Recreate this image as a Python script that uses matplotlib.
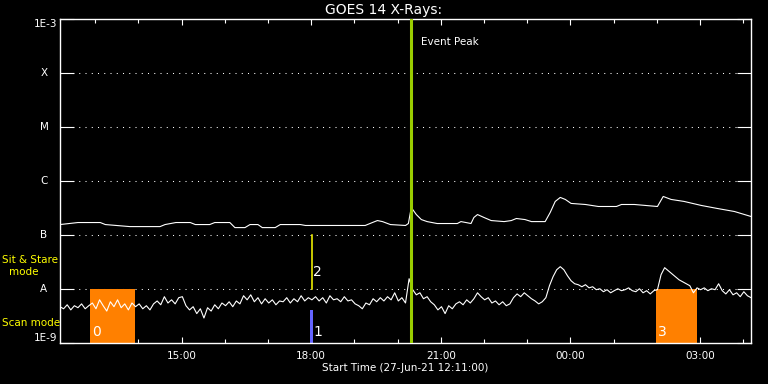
"""GOES 14 X-ray flux plot with observing-mode overlays, 27-Jun-21."""

import matplotlib

matplotlib.use("Agg")
import matplotlib.pyplot as plt
import numpy as np
from matplotlib.patches import Rectangle

# time axis: minutes after start (27-Jun-21 12:11:00)
t_end = 960
hour_ticks = [49 + 60 * k for k in range(16)]
major_ticks = [169, 349, 529, 709, 889]
major_labels = ["15:00", "18:00", "21:00", "00:00", "03:00"]

# GOES classes
class_levels = [1e-8, 1e-7, 1e-6, 1e-5, 1e-4]
class_names = ["A", "B", "C", "M", "X"]

# long channel (1-8 A), W/m^2 in units of 1e-9
long_t = [0, 25, 56, 63, 97, 139, 146, 161, 181, 188, 208, 215, 236, 243, 257,
          264, 275, 281, 299, 306, 334, 341, 424, 434, 441, 448, 459, 480, 484,
          488, 495, 502, 510, 524, 552, 557, 564, 571, 575, 580, 589, 599, 617,
          627, 634, 646, 655, 674, 681, 688, 695, 702, 710, 730, 748, 773, 780,
          798, 830, 838, 849, 867, 891, 913, 937, 960]
long_nw = [156, 170, 170, 156, 143, 143, 156, 170, 170, 156, 156, 170, 170, 137,
           137, 156, 156, 137, 137, 156, 156, 150, 150, 170, 185, 177, 156, 150,
           163, 323, 239, 193, 177, 163, 163, 177, 170, 163, 211, 239, 211, 185,
           177, 185, 202, 193, 177, 177, 261, 418, 496, 455, 384, 367, 337, 337,
           367, 367, 337, 517, 455, 418, 352, 310, 272, 220]

# short channel (0.5-4 A), 5-minute samples, in units of 1e-9 W/m^2
short_t = np.arange(0, t_end + 1, 5)
short_nw = [4.7, 4.3, 5.1, 4.1, 4.9, 4.5, 5.3, 4.3, 4.9,
            5.5, 4.3, 6.3, 4.9, 3.9, 5.8, 4.7, 6.3, 4.5, 5.3, 4.1, 5.5, 4.7,
            5.3, 4.3, 4.9, 4.1, 5.3,
            6.0, 5.1, 7.2, 5.5, 6.3, 5.3, 6.9, 7.2,
            4.9, 4.1, 4.7, 3.5, 4.3, 2.9,
            4.5, 3.9, 5.1, 4.3, 5.5, 4.9, 5.8, 4.7, 6.0, 5.3,
            7.5, 6.3, 7.8, 5.8, 6.9, 5.3, 6.6, 5.5, 6.3, 5.1, 6.0, 5.8, 6.9, 5.5,
            6.6, 5.8, 7.5, 6.0, 6.9, 6.3,
            7.2, 6.0, 6.9, 5.5, 7.5, 6.3, 6.6, 5.8, 7.2, 6.0,
            6.3, 5.3, 4.9, 4.3, 5.5, 5.1,
            6.6, 5.8, 6.9, 6.0, 7.2, 6.3, 8.5,
            6.0, 6.9, 5.5,
            15.5,
            9.7, 7.8, 8.5, 6.6, 7.2, 5.8, 5.1,
            4.1, 4.7, 3.5, 4.9, 4.3, 5.3,
            5.8, 5.1, 6.3, 5.5, 6.6, 8.5,
            7.2, 6.3, 6.9, 5.5, 6.0, 5.1, 5.8, 4.9,
            5.3, 6.9, 8.1, 7.2, 8.5, 7.5, 6.6,
            6.0, 5.3, 5.8,
            6.9,
            11.5, 16.9, 22.7, 25.9, 22.7, 17.6, 14.2, 12.5, 12.0,
            11.0, 12.0, 10.5, 11.0, 9.7, 10.1,
            8.9, 9.7, 8.5, 9.3, 10.1, 9.3, 9.7,
            10.5, 9.3, 8.9, 10.1, 8.5, 9.3, 8.1, 9.3,
            9.7,
            18.4, 24.8, 21.8, 19.2, 16.9, 14.8, 13.6, 12.5, 11.5, 8.5, 10.5,
            9.7, 10.5, 9.3, 10.1, 9.7, 12.5,
            9.3, 8.1, 9.7, 7.8, 8.5, 7.2, 8.9, 7.5, 6.9]

event_peak = 487
# observing-mode markers: (label, start, end)
scan_blocks = [("0", 42, 104), ("3", 828, 885)]
scan_marker = ("1", 347.5, 351.7)
stare_marker = ("2", 350.6)

WHITE = "white"
ORANGE = "#ff8000"
BLUE = "#6464ff"
YELLOW = "#ffff00"
PEAK = "#9acd00"


def main() -> None:
    plt.rcParams["font.family"] = ["DejaVu Sans"]
    fig = plt.figure(figsize=(7.68, 3.84), dpi=100, facecolor="black")
    ax = fig.add_axes([0.0781, 0.1068, 0.8998, 0.8438], facecolor="black")
    ax.set_yscale("log")
    ax.set_xlim(0, t_end)
    ax.set_ylim(1e-9, 1e-3)

    for lvl in class_levels:
        ax.axhline(lvl, color=WHITE, lw=0.75, dashes=(1, 5), zorder=1)

    for lab, t0, t1 in scan_blocks:
        ax.add_patch(Rectangle((t0, 1e-9), t1 - t0, 1e-8 - 1e-9,
                               color=ORANGE, lw=0, zorder=2))
        ax.text(t0 + 2, 1.2e-9, lab, color=WHITE, fontsize=10,
                ha="left", va="bottom", zorder=5)
    lab, t0, t1 = scan_marker
    ax.add_patch(Rectangle((t0, 1e-9), t1 - t0, 4.1e-9 - 1e-9,
                           color=BLUE, lw=0, zorder=2))
    ax.text(t1, 1.2e-9, lab, color=WHITE, fontsize=10, ha="left",
            va="bottom", zorder=5)
    lab, t0 = stare_marker
    ax.plot([t0, t0], [1e-8, 1e-7], color=YELLOW, lw=1.1, zorder=3)
    ax.text(t0 + 1, 2.1e-8, lab, color=WHITE, fontsize=10, ha="left",
            va="center", zorder=5)

    ax.plot(long_t, np.array(long_nw) * 1e-9, color=WHITE, lw=0.8, zorder=4)
    ax.plot(short_t, np.array(short_nw) * 1e-9, color=WHITE, lw=0.8, zorder=4)

    ax.axvline(event_peak, color=PEAK, lw=2.2, zorder=4)
    ax.text(event_peak + 15, 3.8e-4, "Event Peak", color=WHITE, fontsize=7.5,
            ha="left", va="center")

    # axes styling
    for sp in ax.spines.values():
        sp.set_color(WHITE)
        sp.set_linewidth(1.0)
    ax.set_xticks(major_ticks)
    ax.set_xticklabels(major_labels)
    ax.set_xticks(hour_ticks, minor=True)
    ax.tick_params(axis="x", which="major", direction="in", length=4.3,
                   width=0.8, colors=WHITE, labelsize=7.5, top=True, pad=6)
    ax.tick_params(axis="x", which="minor", direction="in", length=2.9,
                   width=0.8, colors=WHITE, top=True)
    ax.set_yticks([1e-9] + class_levels + [1e-3])
    ax.set_yticks([], minor=True)
    ax.set_yticklabels([])
    ax.tick_params(axis="y", which="major", direction="in", length=10,
                   width=0.8, colors=WHITE, right=True)

    ytr = ax.get_yaxis_transform()
    ax.text(-0.0045, 1e-9, "1E-9", transform=ytr, color=WHITE, fontsize=7.5,
            ha="right", va="bottom")
    ax.text(-0.0045, 1e-3, "1E-3", transform=ytr, color=WHITE, fontsize=7.5,
            ha="right", va="top")
    for lvl, name in zip(class_levels, class_names):
        ax.text(-0.0232, lvl, name, transform=ytr, color=WHITE, fontsize=7.5,
                ha="center", va="center")

    fig.text(0.5, 1 - 10 / 384, "GOES 14 X-Rays:", color=WHITE, fontsize=10,
             ha="center", va="center")
    fig.text(405 / 768, 1 - 368 / 384, "Start Time (27-Jun-21 12:11:00)",
             color=WHITE, fontsize=7.5, ha="center", va="center")
    fig.text(2 / 768, 1 - 260 / 384, "Sit & Stare", color=YELLOW,
             fontsize=7.5, ha="left", va="center")
    fig.text(24 / 768, 1 - 272 / 384, "mode", color=YELLOW,
             fontsize=7.5, ha="center", va="center")
    fig.text(2 / 768, 1 - 323 / 384, "Scan mode", color=YELLOW,
             fontsize=7.5, ha="left", va="center")

    fig.savefig("out.png", dpi=100, facecolor="black")
    plt.close(fig)


if __name__ == "__main__":
    main()
